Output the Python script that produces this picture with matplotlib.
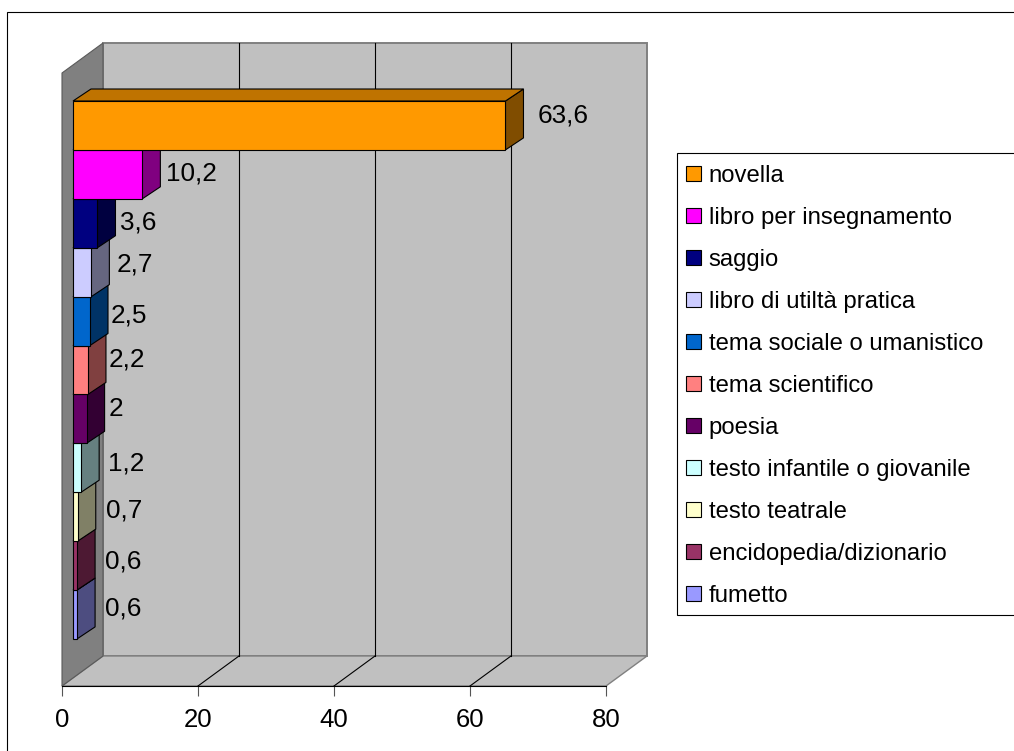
import matplotlib
matplotlib.use("Agg")
import matplotlib.pyplot as plt
from matplotlib.patches import Polygon, Patch, Rectangle

plt.rcParams['font.family'] = ['Liberation Sans', 'DejaVu Sans']

categories = ['novella', 'libro per insegnamento', 'saggio', 'libro di utiltà pratica',
              'tema sociale o umanistico', 'tema scientifico', 'poesia',
              'testo infantile o giovanile', 'testo teatrale',
              'encidopedia/dizionario', 'fumetto']
values = [63.6, 10.2, 3.6, 2.7, 2.5, 2.2, 2, 1.2, 0.7, 0.6, 0.6]
value_labels = ['63,6', '10,2', '3,6', '2,7', '2,5', '2,2', '2', '1,2', '0,7', '0,6', '0,6']
x_ticks = [0, 20, 40, 60, 80]

front_colors = ['#FF9900', '#FF00FF', '#000080', '#CCCCFF', '#0066CC', '#FF8080',
                '#660066', '#CCFFFF', '#FFFFCC', '#993366', '#9999FF']
side_colors = ['#804D00', '#800080', '#000040', '#666680', '#003366', '#804040',
               '#330033', '#668080', '#808066', '#4D1933', '#4D4D80']
top_color = '#BF7300'

# label nudges in pixels relative to bar end / bar centre
label_dx = [32, 24, 23, 25, 21, 21, 22, 27, 28, 28, 28]
label_dy = [10, 1, 1, 8, 6, 10, 10, 4, 6, 4, 6]

W, H = 1014, 751
fig = plt.figure(figsize=(W / 100, H / 100), dpi=100, facecolor='white')

PX_X = 6.8      # pixels per value unit
PX_Y = 48.9     # pixels per category
left, right, bottom_px, top_px = 62, 606, 686, 101
ax = fig.add_axes([left / W, 1 - bottom_px / H, (right - left) / W, (bottom_px - top_px) / H])
ax.set_xlim(0, 80)
ax.set_ylim((bottom_px - top_px) / PX_Y, 0)
ax.patch.set_visible(False)

def dx(px):
    return px / PX_X

def dy(px):
    return px / PX_Y

# outer chart border
fig.add_artist(Rectangle((7 / W, -0.1), 1.2, 1.1 - 12 / H, transform=fig.transFigure,
                         facecolor='none', edgecolor='black', lw=0.8))

# 3-D box: walls and floor
y_front_top = dy(73 - top_px)
y_front_bot = dy(bottom_px - top_px)
ddx, ddy = dx(41), dy(30)
wall_edge = '#808080'
ax.add_patch(Polygon([(ddx, y_front_top - ddy), (80 + ddx, y_front_top - ddy),
                      (80 + ddx, y_front_bot - ddy), (ddx, y_front_bot - ddy)],
                     fc='#C0C0C0', ec=wall_edge, lw=1.4, zorder=1, clip_on=False))
ax.add_patch(Polygon([(0, y_front_bot), (ddx, y_front_bot - ddy),
                      (80 + ddx, y_front_bot - ddy), (80, y_front_bot)],
                     fc='#C0C0C0', ec=wall_edge, lw=1.0, zorder=1, clip_on=False))
ax.add_patch(Polygon([(0, y_front_top), (ddx, y_front_top - ddy),
                      (ddx, y_front_bot - ddy), (0, y_front_bot)],
                     fc='#808080', ec='#5A5A5A', lw=0.8, zorder=1, clip_on=False))

# gridlines on back wall and floor
for t in x_ticks[1:-1]:
    ax.plot([t + ddx, t + ddx], [y_front_top - ddy, y_front_bot - ddy],
            color='black', lw=0.8, zorder=2, clip_on=False)
    ax.plot([t + ddx, t], [y_front_bot - ddy, y_front_bot],
            color='black', lw=0.8, zorder=2, clip_on=False)

# bars, lowest first so that upper bars overlap them
base = dx(11)
bdx, bdy = dx(18), dy(12)
n = len(values)
for i in range(n - 1, -1, -1):
    z = 10 + (n - i)
    v = values[i]
    end = base + v
    ax.add_patch(Polygon([(end, i), (end + bdx, i - bdy), (end + bdx, i + 1 - bdy), (end, i + 1)],
                         fc=side_colors[i], ec='black', lw=0.8, zorder=z, clip_on=False))
    ax.add_patch(Polygon([(base, i), (base + bdx, i - bdy), (end + bdx, i - bdy), (end, i)],
                         fc=top_color if i == 0 else side_colors[i], ec='black', lw=0.8,
                         zorder=z, clip_on=False))
    ax.barh(i, v, left=base, height=1, align='edge', color=front_colors[i],
            edgecolor='black', linewidth=0.8, zorder=z + 0.5, clip_on=False)
    ax.annotate(value_labels[i], xy=(end, i + 0.5), xytext=(label_dx[i], label_dy[i]),
                textcoords='offset pixels', ha='left', va='center', fontsize=18.8,
                color='black', zorder=40, annotation_clip=False)

# axes styling
for s in ('top', 'left', 'right'):
    ax.spines[s].set_visible(False)
ax.spines['bottom'].set_linewidth(0.8)
ax.spines['bottom'].set_zorder(5)
ax.set_yticks([])
ax.set_xticks(x_ticks)
ax.tick_params(axis='x', length=7, width=0.8, color='#555555', pad=8.5, labelsize=18.5)

# legend
fig.add_artist(Rectangle((677 / W, 1 - 615 / H), 0.5, (615 - 153) / H, transform=fig.transFigure,
                         facecolor='white', edgecolor='black', lw=0.8, zorder=3))
handles = [Patch(facecolor=c, edgecolor='black', linewidth=0.8) for c in front_colors]
leg = fig.legend(handles, categories, loc='upper left',
                 bbox_to_anchor=(686 / W, 1 - 165 / H), bbox_transform=fig.transFigure,
                 frameon=False, borderpad=0, borderaxespad=0, fontsize=17.2,
                 handlelength=0.62, handleheight=0.62, handletextpad=0.33,
                 labelspacing=0.836, labelcolor='black')
leg.set_zorder(4)

fig.savefig('out.png', dpi=100)
